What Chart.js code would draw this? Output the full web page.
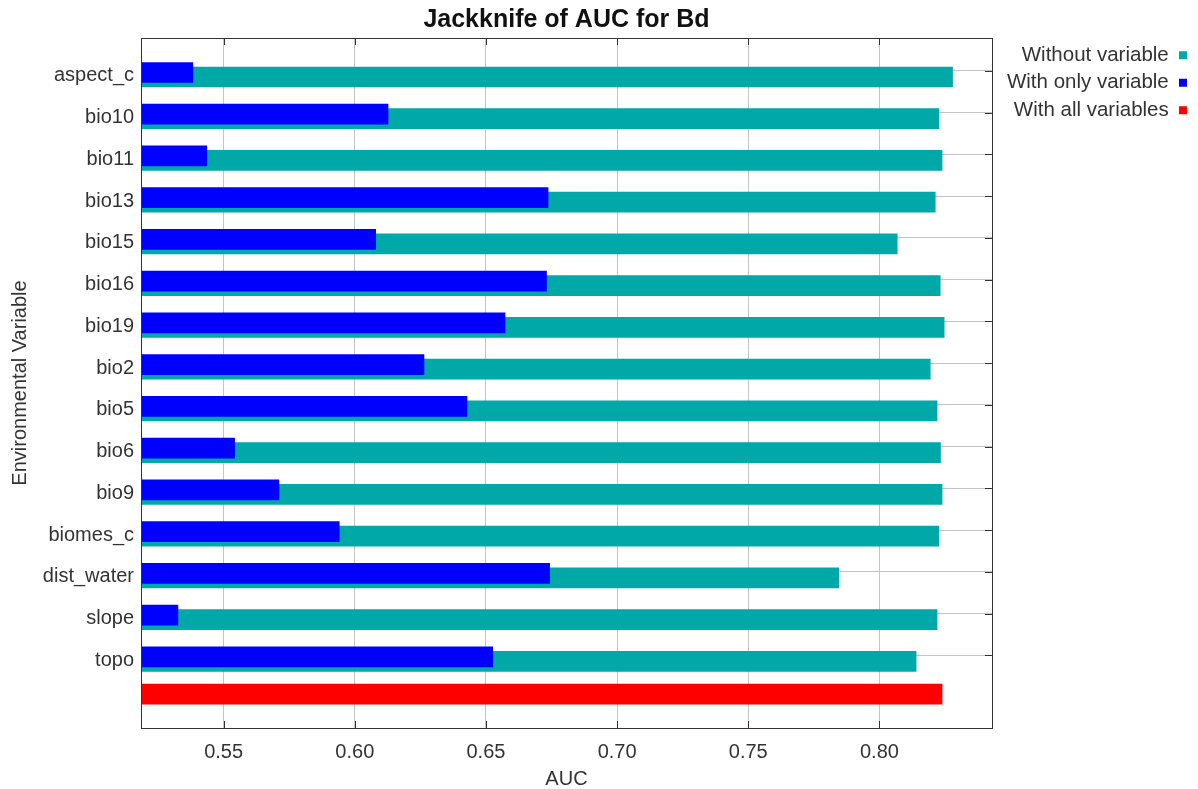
<!DOCTYPE html>
<html>
<head>
<meta charset="utf-8">
<title>Jackknife of AUC for Bd</title>
<script src="https://cdn.jsdelivr.net/npm/chart.js@4/dist/chart.umd.min.js"></script>
<style>
  html, body { margin: 0; padding: 0; background: #fff; }
  canvas { display: block; }
</style>
</head>
<body>
<canvas id="chart" width="1198" height="789"></canvas>
<script>
// Jackknife test of variable importance (training AUC) for the Bd model.
const categories = ['aspect_c', 'bio10', 'bio11', 'bio13', 'bio15', 'bio16', 'bio19', 'bio2',
  'bio5', 'bio6', 'bio9', 'biomes_c', 'dist_water', 'slope', 'topo'];
const withoutVariable = [0.8280, 0.8228, 0.8240, 0.8214, 0.8069, 0.8233, 0.8248, 0.8195,
  0.8221, 0.8234, 0.8240, 0.8228, 0.7846, 0.8221, 0.8141];
const withOnlyVariable = [0.5384, 0.6128, 0.5437, 0.6738, 0.6081, 0.6732, 0.6574, 0.6265,
  0.6429, 0.5543, 0.5712, 0.5942, 0.6744, 0.5327, 0.6527];
const withAllVariables = 0.8240;

// AUC axis range and tick spacing
const aucMin = 0.5185;
const aucMax = 0.8429;
const aucStep = 0.05;

// One row per variable plus a final unlabeled row for the full model
const rowCount = categories.length + 1;
const rowIndex = Array.from({ length: rowCount }, (_, i) => i);
const allRow = rowIndex.map(i => (i === categories.length ? withAllVariables : null));
const onlyRow = rowIndex.map(i => (i < categories.length ? withOnlyVariable[i] : null));
const withoutRow = rowIndex.map(i => (i < categories.length ? withoutVariable[i] : null));

// Row axis extent (in row units) and the small downward nudge of the bar group
const rowTop = -0.79;
const rowBottom = 15.74;
const barShift = 0.036;

Chart.defaults.font.family = "'Liberation Sans', Arial, sans-serif";
Chart.defaults.color = '#333';

// Plot frame with short inward tick marks (top/bottom for AUC, right for rows)
const plotFrame = {
  id: 'plotFrame',
  afterDatasetsDraw(chart, args, opts) {
    const { ctx, chartArea: a } = chart;
    const xs = chart.scales.x;
    const ys = chart.scales.y;
    const len = opts.tickLength;
    const crisp = v => Math.round(v) + 0.5;
    ctx.save();
    ctx.strokeStyle = opts.color;
    ctx.lineWidth = 1;
    ctx.beginPath();
    xs.ticks.forEach((t, i) => {
      const px = crisp(xs.getPixelForTick(i));
      ctx.moveTo(px, a.top); ctx.lineTo(px, a.top + len);
      ctx.moveTo(px, a.bottom); ctx.lineTo(px, a.bottom - len);
    });
    ys.ticks.forEach((t, i) => {
      const py = crisp(ys.getPixelForTick(i));
      ctx.moveTo(a.right, py); ctx.lineTo(a.right - len, py);
    });
    ctx.stroke();
    ctx.lineWidth = opts.width;
    ctx.strokeRect(crisp(a.left), crisp(a.top),
      Math.round(a.right) - Math.round(a.left), Math.round(a.bottom) - Math.round(a.top));
    ctx.restore();
  }
};

new Chart(document.getElementById('chart'), {
  type: 'bar',
  data: {
    labels: rowIndex,
    datasets: [
      { label: 'With all variables', data: allRow, backgroundColor: '#ff0000', yAxisID: 'yBars' },
      { label: 'With only variable', data: onlyRow, backgroundColor: '#0000ff', yAxisID: 'yBars' },
      { label: 'Without variable', data: withoutRow, backgroundColor: '#00a8a8', yAxisID: 'yBars' }
    ]
  },
  options: {
    indexAxis: 'y',
    responsive: false,
    animation: false,
    devicePixelRatio: 1,
    datasets: {
      bar: { categoryPercentage: 0.3235, barPercentage: 4.6, borderWidth: 0 }
    },
    layout: { padding: { top: 5, right: 4, bottom: 0, left: 10 } },
    scales: {
      x: {
        type: 'linear',
        position: 'bottom',
        min: aucMin,
        max: aucMax,
        grid: { color: '#c4c4c4', lineWidth: 1, drawTicks: false },
        border: { display: false },
        ticks: {
          stepSize: aucStep,
          includeBounds: false,
          padding: 14,
          color: '#333',
          font: { size: 20, lineHeight: 1 },
          callback: v => v.toFixed(2)
        },
        afterFit: s => { s.height = 61; },
        title: {
          display: true,
          text: 'AUC',
          color: '#333',
          font: { size: 20, lineHeight: 1 },
          padding: { top: 0, bottom: 0 }
        }
      },
      y: {
        type: 'linear',
        position: 'left',
        reverse: true,
        offset: false,
        min: rowTop,
        max: rowBottom,
        grid: { color: '#c4c4c4', lineWidth: 1, drawTicks: false, offset: false },
        border: { display: false },
        ticks: {
          stepSize: 1,
          includeBounds: false,
          padding: 7,
          labelOffset: 5,
          color: '#333',
          font: { size: 20, lineHeight: 1 },
          callback: v => categories[v]
        },
        afterBuildTicks: s => {
          s.ticks = s.ticks.filter(t => Number.isInteger(t.value) && t.value < categories.length);
        },
        afterFit: s => { s.width = 131; },
        title: {
          display: true,
          text: 'Environmental Variable',
          color: '#333',
          font: { size: 20, lineHeight: 1 },
          padding: { top: 0, bottom: 0 }
        }
      },
      yBars: {
        type: 'linear',
        axis: 'y',
        display: false,
        reverse: true,
        offset: false,
        min: rowTop - barShift,
        max: rowBottom - barShift,
        grid: { offset: false },
        ticks: { stepSize: 1, includeBounds: false }
      },
      ySpacer: {
        type: 'linear',
        axis: 'y',
        position: 'right',
        display: true,
        offset: false,
        grid: { display: false, offset: false },
        border: { display: false },
        ticks: { display: false },
        afterFit: s => { s.width = 5; }
      }
    },
    plugins: {
      title: {
        display: true,
        text: 'Jackknife of AUC for Bd',
        fullSize: false,
        color: '#111',
        font: { size: 25, weight: 'bold', lineHeight: 1.2 },
        padding: { top: 0, bottom: 3 }
      },
      legend: {
        position: 'right',
        align: 'start',
        fullSize: false,
        rtl: true,
        reverse: true,
        labels: { boxWidth: 8, boxHeight: 8, padding: 7, color: '#333', font: { size: 20.5 } }
      },
      tooltip: { enabled: false },
      plotFrame: { color: '#333', width: 1, tickLength: 7 }
    }
  },
  plugins: [plotFrame]
});
</script>
</body>
</html>
